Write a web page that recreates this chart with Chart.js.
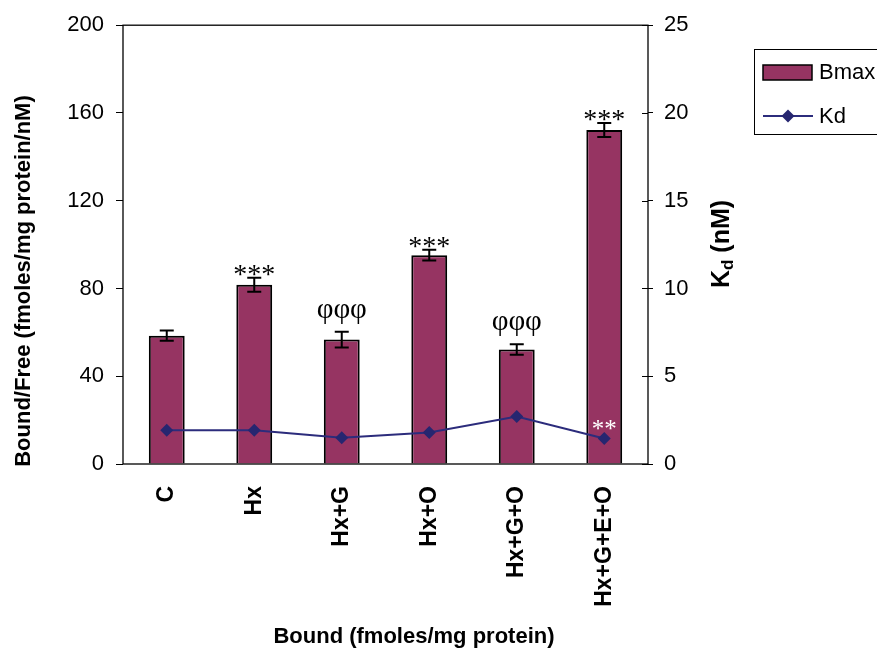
<!DOCTYPE html>
<html>
<head>
<meta charset="utf-8">
<script src="https://cdn.jsdelivr.net/npm/chart.js@4.4.1/dist/chart.umd.min.js"></script>
<style>
  html, body { margin: 0; padding: 0; background: #ffffff; }
  #wrap { width: 877px; height: 656px; }
</style>
</head>
<body>
<div id="wrap"><canvas id="chart" width="877" height="656"></canvas></div>
<script>
// Treatment groups on the x axis
const categories = ['C', 'Hx', 'Hx+G', 'Hx+O', 'Hx+G+O', 'Hx+G+E+O'];
// Bmax (bars, left axis) with standard errors
const bmaxValues = [58.5, 81.7, 56.7, 95.2, 52.2, 152.2];
const bmaxErrors = [2.3, 3.2, 3.6, 2.4, 2.4, 3.2];
// Kd (line, right axis)
const kdValues = [1.92, 1.92, 1.49, 1.79, 2.71, 1.45];
// Significance marks above the bars and above the Kd points
const bmaxMarks = ['', '***', 'φφφ', '***', 'φφφ', '***'];
const kdMarks = ['', '', '', '', '', '**'];
// Axis ranges and tick steps
const leftAxis = { min: 0, max: 200, step: 40 };
const rightAxis = { min: 0, max: 25, step: 5 };

const BAR_COLOR = '#963462';
const LINE_COLOR = '#2c2c7c';
const POINT_COLOR = '#262670';
const SANS = "'Liberation Sans', Arial, sans-serif";
const SERIF = "'Liberation Serif', 'Times New Roman', serif";

// Frame around the plot area and inward halves of the right-axis ticks
const framePlugin = {
  id: 'frame',
  afterDraw(chart) {
    const { ctx, chartArea: a, scales } = chart;
    ctx.save();
    ctx.strokeStyle = '#000';
    ctx.lineWidth = 1.3;
    ctx.strokeRect(a.left, a.top, a.right - a.left, a.bottom - a.top);
    const r = scales.y1;
    ctx.lineWidth = 1;
    for (let v = rightAxis.min; v <= rightAxis.max; v += rightAxis.step) {
      const py = Math.round(r.getPixelForValue(v)) + 0.5;
      ctx.beginPath();
      ctx.moveTo(a.right - 6, py);
      ctx.lineTo(a.right, py);
      ctx.stroke();
    }
    ctx.restore();
  }
};

// Error bars on the Bmax bars
const errorBarPlugin = {
  id: 'errorBars',
  afterDatasetsDraw(chart) {
    const { ctx, scales } = chart;
    const meta = chart.getDatasetMeta(0);
    ctx.save();
    ctx.strokeStyle = '#000';
    ctx.lineWidth = 2;
    meta.data.forEach((bar, i) => {
      const x = bar.x;
      const yTop = scales.y.getPixelForValue(bmaxValues[i] + bmaxErrors[i]);
      const yBot = scales.y.getPixelForValue(bmaxValues[i] - bmaxErrors[i]);
      ctx.beginPath();
      ctx.moveTo(x, yTop); ctx.lineTo(x, yBot);
      ctx.moveTo(x - 7, yTop); ctx.lineTo(x + 7, yTop);
      ctx.moveTo(x - 7, yBot); ctx.lineTo(x + 7, yBot);
      ctx.stroke();
    });
    ctx.restore();
  }
};

// Significance symbols
const marksPlugin = {
  id: 'marks',
  afterDraw(chart) {
    const { ctx, scales } = chart;
    const bars = chart.getDatasetMeta(0).data;
    const pts = chart.getDatasetMeta(1).data;
    ctx.save();
    ctx.textAlign = 'center';
    ctx.textBaseline = 'alphabetic';
    const drawAbove = (txt, x, bottom, font, color) => {
      ctx.font = font;
      ctx.fillStyle = color;
      const m = ctx.measureText(txt);
      ctx.fillText(txt, x, bottom - m.actualBoundingBoxDescent);
    };
    bars.forEach((bar, i) => {
      const txt = bmaxMarks[i];
      if (!txt) return;
      const errTop = scales.y.getPixelForValue(bmaxValues[i] + bmaxErrors[i]);
      if (txt.startsWith('φ')) {
        drawAbove(txt, bar.x, errTop - 8, '29px ' + SERIF, '#000');
      } else {
        drawAbove(txt, bar.x, errTop - 2, '28px ' + SERIF, '#000');
      }
    });
    pts.forEach((pt, i) => {
      const txt = kdMarks[i];
      if (!txt) return;
      drawAbove(txt, pt.x, pt.y - 9, '25px ' + SERIF, '#ffffff');
    });
    ctx.restore();
  }
};

// Axis titles and legend box
const titlesPlugin = {
  id: 'titles',
  afterDraw(chart) {
    const { ctx } = chart;
    ctx.save();
    ctx.fillStyle = '#000';
    ctx.textBaseline = 'middle';
    ctx.textAlign = 'center';

    // bottom title
    ctx.font = 'bold 22px ' + SANS;
    ctx.fillText('Bound (fmoles/mg protein)', 414, 637);

    // left title
    ctx.save();
    ctx.translate(24, 281);
    ctx.rotate(-Math.PI / 2);
    ctx.font = 'bold 22px ' + SANS;
    ctx.fillText('Bound/Free (fmoles/mg protein/nM)', 0, 0);
    ctx.restore();

    // right title: K with subscript d
    ctx.save();
    ctx.translate(722, 244);
    ctx.rotate(-Math.PI / 2);
    ctx.textAlign = 'left';
    const big = 'bold 25px ' + SANS, small = 'bold 17px ' + SANS;
    ctx.font = big; const wK = ctx.measureText('K').width;
    ctx.font = small; const wd = ctx.measureText('d').width;
    ctx.font = big; const wRest = ctx.measureText(' (nM)').width;
    let x0 = -(wK + wd + wRest) / 2;
    ctx.font = big; ctx.fillText('K', x0, 0); x0 += wK;
    ctx.font = small; ctx.fillText('d', x0, 6); x0 += wd;
    ctx.font = big; ctx.fillText(' (nM)', x0, 0);
    ctx.restore();

    // legend
    ctx.strokeStyle = '#000';
    ctx.lineWidth = 1;
    ctx.strokeRect(754.5, 49.5, 140, 85);
    ctx.fillStyle = BAR_COLOR;
    ctx.fillRect(763, 65, 49, 15);
    ctx.lineWidth = 1.5;
    ctx.strokeRect(763, 65, 49, 15);
    ctx.strokeStyle = LINE_COLOR;
    ctx.lineWidth = 2;
    ctx.beginPath(); ctx.moveTo(763, 116); ctx.lineTo(813, 116); ctx.stroke();
    ctx.fillStyle = POINT_COLOR;
    ctx.beginPath();
    ctx.moveTo(788, 109.5); ctx.lineTo(794.5, 116); ctx.lineTo(788, 122.5); ctx.lineTo(781.5, 116);
    ctx.closePath(); ctx.fill();
    ctx.fillStyle = '#000';
    ctx.textAlign = 'left';
    ctx.font = '22px ' + SANS;
    ctx.fillText('Bmax', 819, 73);
    ctx.fillText('Kd', 819, 117);
    ctx.restore();
  }
};

new Chart(document.getElementById('chart'), {
  data: {
    labels: categories,
    datasets: [
      {
        type: 'bar',
        label: 'Bmax',
        data: bmaxValues,
        yAxisID: 'y',
        backgroundColor: BAR_COLOR,
        borderColor: '#000',
        borderWidth: 2,
        barPercentage: 0.41,
        categoryPercentage: 1,
        order: 2
      },
      {
        type: 'line',
        label: 'Kd',
        data: kdValues,
        yAxisID: 'y1',
        borderColor: LINE_COLOR,
        borderWidth: 2,
        backgroundColor: POINT_COLOR,
        pointStyle: 'rectRot',
        pointRadius: 6.5,
        pointBackgroundColor: POINT_COLOR,
        pointBorderColor: POINT_COLOR,
        pointBorderWidth: 0,
        tension: 0,
        order: 1
      }
    ]
  },
  options: {
    responsive: false,
    animation: false,
    events: [],
    layout: { padding: { top: 21, left: 0, right: 0, bottom: 0 } },
    plugins: { legend: { display: false }, tooltip: { enabled: false } },
    scales: {
      x: {
        grid: { display: false, drawTicks: false },
        border: { display: false },
        ticks: {
          autoSkip: false, minRotation: 90, maxRotation: 90, padding: 22,
          color: '#000', font: { family: SANS, size: 23, weight: 'bold' }
        },
        afterFit(s) { s.height = 192; }
      },
      y: {
        position: 'left',
        min: leftAxis.min, max: leftAxis.max,
        grid: { drawOnChartArea: false, tickLength: 7, color: '#000', lineWidth: 1 },
        border: { display: false },
        ticks: {
          stepSize: leftAxis.step, padding: 12, color: '#000',
          font: { family: SANS, size: 22 }
        },
        afterFit(s) { s.width = 123; }
      },
      y1: {
        position: 'right',
        min: rightAxis.min, max: rightAxis.max,
        grid: { drawOnChartArea: false, tickLength: 5, color: '#000', lineWidth: 1 },
        border: { display: false },
        ticks: {
          stepSize: rightAxis.step, padding: 11, color: '#000',
          font: { family: SANS, size: 22 }
        },
        afterFit(s) { s.width = 229; }
      }
    }
  },
  plugins: [framePlugin, errorBarPlugin, marksPlugin, titlesPlugin]
});
</script>
</body>
</html>
